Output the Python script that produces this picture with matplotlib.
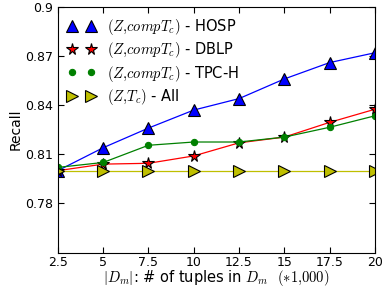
import numpy as np
import matplotlib
matplotlib.use('Agg')
import matplotlib.pyplot as plt
from matplotlib.lines import Line2D

plt.rcParams['mathtext.fontset'] = 'cm'
plt.rcParams['font.family'] = 'DejaVu Sans'

x = [2.5, 5, 7.5, 10, 12.5, 15, 17.5, 20]
hosp = [0.800, 0.814, 0.826, 0.837, 0.844, 0.856, 0.866, 0.872]
dblp = [0.800, 0.804, 0.8045, 0.809, 0.817, 0.8205, 0.8295, 0.8375]
tpch = [0.802, 0.805, 0.8155, 0.8175, 0.8175, 0.8205, 0.8265, 0.8335]
all_ = [0.7995, 0.7995, 0.7995, 0.7995, 0.7995, 0.7995, 0.7995, 0.7995]

labels = [r'$(Z{,}compT_c)$ - HOSP', r'$(Z{,}compT_c)$ - DBLP',
          r'$(Z{,}compT_c)$ - TPC-H', r'$(Z{,}T_c)$ - All']

fig = plt.figure(figsize=(3.83, 2.87), dpi=100)
ax = fig.add_axes([0.151, 0.12, 0.828, 0.856])

styles = [
    dict(color='b', marker='^', ms=8, mec='k', mew=0.8),
    dict(color='r', marker='*', ms=8.5, mec='k', mew=0.8),
    dict(color='g', marker='o', ms=4.5, mec='g', mew=0.8),
    dict(color='#bfbf00', marker='>', ms=8, mec='k', mew=0.8),
]
for ys, st in zip([hosp, dblp, tpch, all_], styles):
    ax.plot(x, ys, lw=0.9, **st)

handles = [Line2D([], [], ls='none', **st) for st in styles]
ax.legend(handles, labels, loc='upper left', numpoints=2, frameon=False,
          fontsize=10.5, handlelength=1.9, labelspacing=0.22, borderaxespad=0.3)

ax.set_xlim(2.5, 20)
ax.set_ylim(0.75, 0.9)
ax.set_xticks(x)
ax.set_xticklabels(['2.5', '5', '7.5', '10', '12.5', '15', '17.5', '20'])
ax.set_yticks([0.78, 0.81, 0.84, 0.87, 0.9])
ax.set_yticklabels(['0.78', '0.81', '0.84', '0.87', '0.9'])
ax.tick_params(direction='in', top=True, right=True, labelsize=9, length=4)
ax.tick_params(axis='x', pad=2.5)

ax.set_ylabel('Recall', fontsize=10, labelpad=2)
ax.set_xlabel(r'$|D_m|$: # of tuples in $D_m$  $(*1{,}000)$', fontsize=10.5, labelpad=-0.5)

plt.savefig('out.png', dpi=100)
